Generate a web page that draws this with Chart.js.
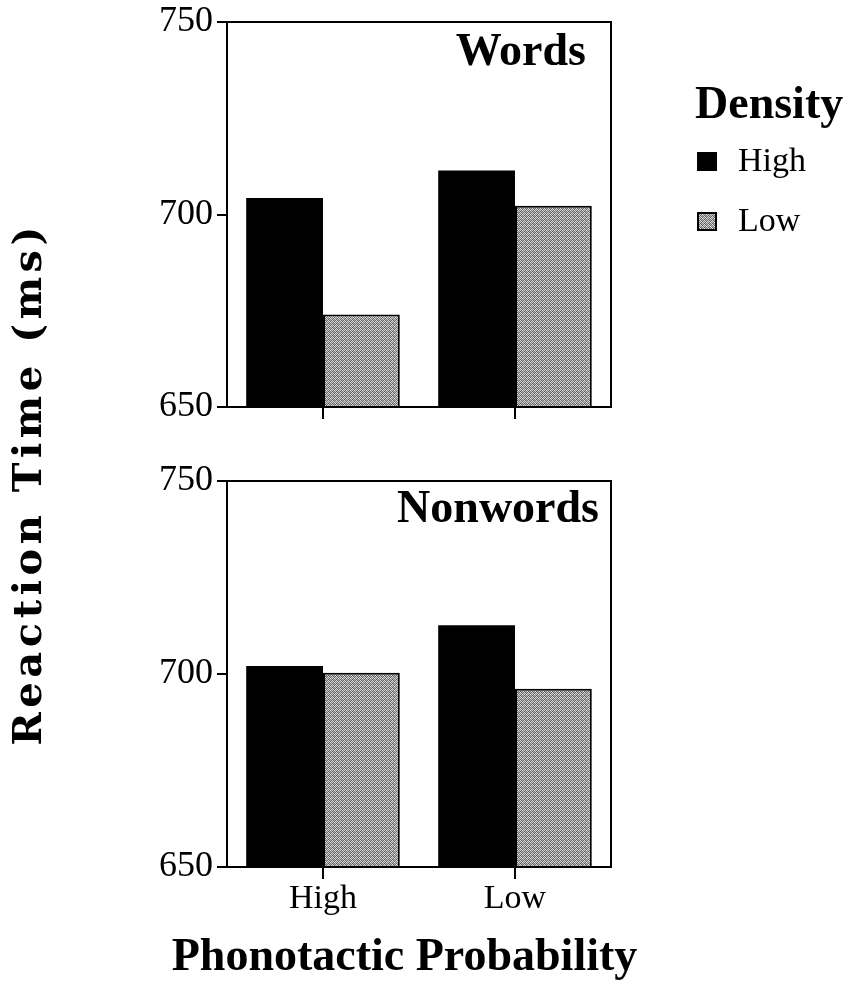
<!DOCTYPE html>
<html>
<head>
<meta charset="utf-8">
<script src="https://cdn.jsdelivr.net/npm/chart.js@4.4.1/dist/chart.umd.min.js"></script>
<style>
  html, body { margin: 0; padding: 0; background: #fff; }
  #wrap { position: relative; width: 849px; height: 986px; }
  canvas { position: absolute; left: 0; top: 0; }
</style>
</head>
<body>
<div id="wrap">
  <canvas id="bottomChart" width="849" height="986"></canvas>
  <canvas id="topChart" width="849" height="460"></canvas>
</div>
<script>
// phonotactic probability categories (x axis)
const categories = ['High', 'Low'];
// neighbourhood density series
const densityLabels = ['High', 'Low'];
const wordsHigh = [704.3, 711.4];
const wordsLow = [674.0, 702.3];
const nonwordsHigh = [702.1, 712.6];
const nonwordsLow = [700.3, 696.2];
const yTicks = [650, 700, 750];

Chart.defaults.font.family = '"Liberation Serif", "Times New Roman", serif';
Chart.defaults.color = '#000';

// grey stipple like the printed figure (fixed 4x4 tile)
const makeStipple = () => {
	const tile = [
		0xe0, 0x5a, 0xb0, 0x70,
		0x90, 0xd8, 0x60, 0xc8,
		0xc0, 0x68, 0xe8, 0x80,
		0x58, 0xb8, 0x78, 0xd0
	];
	const c = document.createElement('canvas');
	c.width = 4;
	c.height = 4;
	const g = c.getContext('2d');
	tile.forEach((v, i) => {
		g.fillStyle = `rgb(${v},${v},${v})`;
		g.fillRect(i % 4, Math.floor(i / 4), 1, 1);
	});
	return g.createPattern(c, 'repeat');
};
const stipple = makeStipple();

const framePlugin = {
	id: 'frame',
	afterDatasetsDraw(chart) {
		const { ctx, chartArea: a } = chart;
		ctx.save();
		ctx.strokeStyle = '#000';
		ctx.lineWidth = 2;
		ctx.strokeRect(a.left, a.top, a.right - a.left, a.bottom - a.top);
		ctx.restore();
	}
};

const textPlugin = {
	id: 'freeText',
	afterDraw(chart, args, opts) {
		const ctx = chart.ctx;
		(opts.items || []).forEach(it => {
			ctx.save();
			ctx.font = it.font;
			ctx.fillStyle = '#000';
			ctx.textBaseline = 'alphabetic';
			ctx.translate(it.x, it.y);
			if (it.rotate) ctx.rotate(it.rotate);
			if (it.fitWidth) {
				const w = ctx.measureText(it.text).width;
				ctx.letterSpacing = ((it.fitWidth - w) / (it.text.length - 1)) + 'px';
				ctx.textAlign = 'left';
				ctx.fillText(it.text, -it.fitWidth / 2, 0);
			} else {
				ctx.textAlign = it.align || 'left';
				ctx.fillText(it.text, 0, 0);
			}
			ctx.restore();
		});
	}
};

const densityLegend = {
	id: 'densityLegend',
	afterDraw(chart, args, opts) {
		if (!opts.display) return;
		const ctx = chart.ctx;
		ctx.save();
		ctx.fillStyle = '#000';
		ctx.textAlign = 'left';
		ctx.textBaseline = 'alphabetic';
		ctx.font = 'bold 46px "Liberation Serif"';
		ctx.fillText(opts.title, opts.x - 2, opts.titleY);
		chart.data.datasets.forEach((ds, i) => {
			const base = opts.firstY + i * opts.rowGap;
			ctx.fillStyle = ds.backgroundColor;
			ctx.fillRect(opts.x, base - 19, 20, 19);
			ctx.strokeStyle = '#000';
			ctx.lineWidth = 2;
			ctx.strokeRect(opts.x + 1, base - 18, 18, 17);
			ctx.fillStyle = '#000';
			ctx.font = '34px "Liberation Serif"';
			ctx.fillText(ds.label, opts.x + 41, base);
		});
		ctx.restore();
	}
};

const yScale = () => ({
	min: 650,
	max: 750,
	afterBuildTicks: s => { s.ticks = yTicks.map(v => ({ value: v })); },
	afterFit: s => { s.width = 227; },
	border: { display: true, color: '#000', width: 2 },
	grid: { drawOnChartArea: false, drawTicks: true, tickLength: 10, color: '#000', lineWidth: 2 },
	ticks: { font: { size: 36, lineHeight: 1 }, color: '#000', padding: 4 }
});

const xScale = (height, showLabels) => ({
	offset: true,
	afterFit: s => { s.height = height; },
	border: { display: true, color: '#000', width: 2 },
	grid: { offset: false, drawOnChartArea: false, tickLength: 12, color: '#000', lineWidth: 2 },
	ticks: { display: showLabels, font: { size: 34 }, color: '#000', padding: 0 }
});

const makeDatasets = (high, low) => [
	{ label: densityLabels[0], data: high, backgroundColor: '#000', borderColor: '#000', borderWidth: 0, base: 650 },
	{ label: densityLabels[1], data: low, backgroundColor: stipple, borderColor: '#000', borderWidth: 2, base: 650 }
];

const barOptions = {
	categoryPercentage: 0.8,
	barPercentage: 1.0
};

// top panel: Words
new Chart(document.getElementById('topChart').getContext('2d'), {
	type: 'bar',
	data: { labels: categories, datasets: makeDatasets(wordsHigh, wordsLow) },
	options: {
		responsive: false,
		animation: false,
		datasets: { bar: barOptions },
		layout: { padding: { top: 22, right: 238, left: 0, bottom: 0 } },
		scales: { x: xScale(53, false), y: yScale() },
		plugins: {
			legend: { display: false },
			tooltip: { enabled: false },
			densityLegend: { display: true, title: 'Density', x: 697, titleY: 118, firstY: 171, rowGap: 60 },
			freeText: { items: [
				{ text: 'Words', x: 586, y: 65, font: 'bold 46px "Liberation Serif"', align: 'right' }
			] }
		}
	},
	plugins: [framePlugin, textPlugin, densityLegend]
});

// bottom panel: Nonwords, plus shared axis titles
new Chart(document.getElementById('bottomChart').getContext('2d'), {
	type: 'bar',
	data: { labels: categories, datasets: makeDatasets(nonwordsHigh, nonwordsLow) },
	options: {
		responsive: false,
		animation: false,
		datasets: { bar: barOptions },
		layout: { padding: { top: 481, right: 238, left: 0, bottom: 0 } },
		scales: { x: xScale(119, true), y: yScale() },
		plugins: {
			legend: { display: false },
			tooltip: { enabled: false },
			densityLegend: { display: false },
			freeText: { items: [
				{ text: 'Nonwords', x: 599, y: 522, font: 'bold 46px "Liberation Serif"', align: 'right' },
				{ text: 'Phonotactic Probability', x: 404.5, y: 970, font: 'bold 46px "Liberation Serif"', align: 'center' },
				{ text: 'Reaction Time (ms)', x: 41, y: 486, font: 'bold 40px "DejaVu Serif"', rotate: -Math.PI / 2, fitWidth: 519 }
			] }
		}
	},
	plugins: [framePlugin, textPlugin, densityLegend]
});
</script>
</body>
</html>
